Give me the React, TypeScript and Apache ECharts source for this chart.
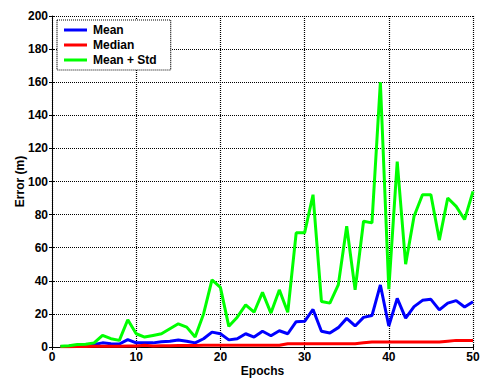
import React, { useEffect, useRef } from "react";
import * as echarts from "echarts";

const epochs = [1, 2, 3, 4, 5, 6, 7, 8, 9, 10, 11, 12, 13, 14, 15, 16, 17, 18, 19, 20, 21, 22, 23, 24, 25, 26, 27, 28, 29, 30, 31, 32, 33, 34, 35, 36, 37, 38, 39, 40, 41, 42, 43, 44, 45, 46, 47, 48, 49, 50];
const meanErr = [0.3, 0.5, 0.8, 1.0, 1.5, 2.5, 2, 1.8, 4.5, 2.5, 2.5, 2.5, 3.2, 3.5, 4.2, 3.5, 2.5, 5, 9, 8, 4.3, 5, 8, 6, 9.5, 6.8, 9.8, 8, 15.3, 15.5, 22.7, 9.5, 8.5, 11.7, 17.3, 12.7, 17.9, 19, 37.5, 12.7, 29.4, 17.5, 24.4, 28.2, 28.8, 22.4, 26.5, 28, 24.2, 27.4];
const medianErr = [0.2, 0.2, 0.3, 0.3, 0.4, 0.5, 0.5, 0.5, 0.6, 0.6, 1, 0.6, 0.8, 0.8, 0.9, 0.9, 0.9, 1, 1, 1, 1, 1, 1, 1, 1, 1, 1, 2, 2, 2, 2, 2, 2, 2, 2, 2, 2.5, 3, 3, 3, 3, 3, 3, 3, 3, 3, 3.5, 4, 4, 4];
const meanStdErr = [0.5, 0.7, 1.5, 1.7, 2.5, 7, 5, 4, 16.5, 8, 6, 7, 8, 11, 14, 12, 6, 20, 40.5, 36, 12.5, 18, 25.5, 21, 33, 20.5, 34.5, 21, 69, 69, 92, 27.5, 26.5, 37.5, 73, 34.5, 76, 75, 160, 35, 112, 50, 79, 92, 92, 64.6, 90, 85, 77, 94];
const seriesNames = ["Mean", "Median", "Mean + Std"];
const seriesColors = ["#0000ff", "#ff0000", "#00ff00"];

export default function App() {
  const ref = useRef<HTMLDivElement>(null);
  useEffect(() => {
    if (!ref.current) return;
    const chart = echarts.init(ref.current, null, { renderer: "svg" });
    const font = "'Liberation Sans', Arial, sans-serif";
    const dataSets = [meanErr, medianErr, meanStdErr];
    const dotted = { color: "#000", type: [1, 1] as any, width: 1.2 };
    chart.setOption({
      animation: false,
      backgroundColor: "#fff",
      grid: { left: 52, right: 7, top: 16, bottom: 32, containLabel: false, outerBoundsMode: "none" },
      legend: {
        orient: "vertical",
        left: 57,
        top: 20,
        padding: [4, 14, 4, 7],
        itemGap: 3,
        itemWidth: 23,
        itemHeight: 3,
        icon: "rect",
        borderColor: "#000",
        borderWidth: 1.2,
        borderType: [1, 1],
        backgroundColor: "#fff",
        textStyle: { fontFamily: font, fontWeight: "bold", fontSize: 12, color: "#000", padding: [0, 0, 0, 1] },
        data: seriesNames,
      },
      xAxis: [
        {
          type: "value",
          min: 0,
          max: 50,
          interval: 10,
          name: "Epochs",
          nameLocation: "middle",
          nameGap: 18,
          nameMoveOverlap: false,
          nameTextStyle: { fontFamily: font, fontWeight: "bold", fontSize: 12, color: "#000" },
          axisLine: { show: true, lineStyle: { color: "#000", width: 1 } },
          axisTick: { show: true, inside: true, length: 3, lineStyle: { color: "#000" } },
          axisLabel: { fontFamily: font, fontWeight: "bold", fontSize: 12, color: "#000", margin: 4 },
          splitLine: { show: true, lineStyle: dotted },
        },
        {
          type: "value",
          position: "top",
          min: 0,
          max: 50,
          interval: 10,
          axisLine: { show: false },
          axisTick: { show: true, inside: true, length: 3, lineStyle: { color: "#000" } },
          axisLabel: { show: false },
          splitLine: { show: false },
        },
      ],
      yAxis: [
        {
          type: "value",
          min: 0,
          max: 200,
          interval: 20,
          name: "Error (m)",
          nameLocation: "middle",
          nameGap: 26,
          nameMoveOverlap: false,
          nameTextStyle: { fontFamily: font, fontWeight: "bold", fontSize: 12, color: "#000" },
          axisLine: { show: true, lineStyle: { color: "#000", width: 1 } },
          axisTick: { show: true, inside: true, length: 3, lineStyle: { color: "#000" } },
          axisLabel: { fontFamily: font, fontWeight: "bold", fontSize: 12, color: "#000", margin: 4 },
          splitLine: { show: true, lineStyle: dotted },
        },
        {
          type: "value",
          position: "right",
          min: 0,
          max: 200,
          interval: 20,
          axisLine: { show: false },
          axisTick: { show: true, inside: true, length: 3, lineStyle: { color: "#000" } },
          axisLabel: { show: false },
          splitLine: { show: false },
        },
      ],
      series: seriesNames.map((name, i) => ({
        name,
        type: "line",
        data: epochs.map((e, j) => [e, dataSets[i][j]]),
        symbol: "none",
        color: seriesColors[i],
        lineStyle: { width: 3, color: seriesColors[i] },
        z: 2 + i,
      })),
    });
    return () => chart.dispose();
  }, []);
  return <div ref={ref} style={{ width: 480, height: 379, position: "absolute", left: 0, top: 0 }} />;
}
